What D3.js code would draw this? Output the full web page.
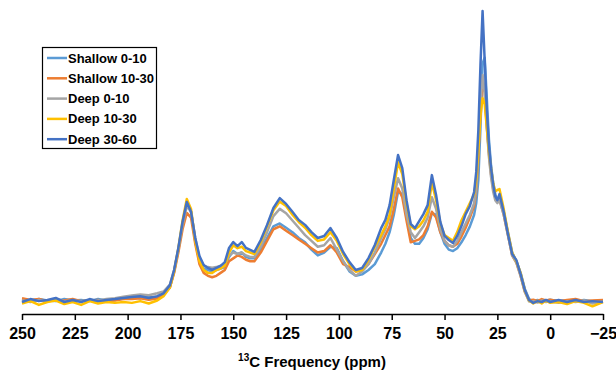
<!DOCTYPE html>
<html>
<head>
<meta charset="utf-8">
<script src="https://cdn.jsdelivr.net/npm/d3@7"></script>
<style>
  body { margin: 0; background: #fff; }
  text { font-family: "Liberation Sans", Arial, sans-serif; font-weight: bold; }
</style>
</head>
<body>
<div id="chart"></div>
<script>
// shared ppm grid
const ppm = [
  250, 246, 242, 238, 234, 230, 226, 222, 218, 214, 210, 206, 202, 198, 194, 190, 186, 183,
  180, 178, 176, 174, 172, 170, 168, 166, 164, 162, 160, 158, 156, 154, 152, 150, 148, 146, 144, 142, 140,
  137, 134, 131, 128, 125, 122, 119, 116, 113, 110, 107, 104, 101, 98, 95, 92, 89, 86, 83,
  80, 78, 76, 74, 72, 70, 68, 66, 64, 62, 60, 58, 56, 54, 52, 50, 48, 46, 44, 42, 40, 38, 36,
  35, 34, 33, 32, 31, 30, 29, 28, 27, 26, 25, 24,
  22, 20, 18, 16, 14, 12, 10, 8, 6, 4, 2, 0, -4, -8, -12, -16, -20, -25
];

const shallow0_10 = [
  0.7, 0.3, 1, 0.5, 0.3, 1, 0.5, 0.7, 0.3, 1, 0.5, 0.7, 1.2, 1.5, 1.3, 1.8, 1.5, 2.5,
  5, 10.5, 18, 27, 34, 31, 21, 14, 11.5, 11, 10.5, 11, 11.5, 12, 15.5, 17.5, 16.5, 17, 15.5, 15, 15,
  18, 22, 26, 27, 25.5, 24, 22, 20.5, 18, 16, 17, 19, 18.5, 14, 10.5, 9, 9.5, 11, 13,
  17, 20, 24, 30, 38, 37, 30, 22, 20, 20, 22, 25, 30.5, 30, 24, 20, 18, 17.5, 18.5, 20.5, 23, 26, 30,
  34, 42, 60, 82, 84, 70, 56, 47, 41, 37, 35, 35.5,
  31, 24, 17, 14, 10, 4.5, 1, 0.3, 0.7, 0.3, 0.5, 0.8, 0.3, 0.5, 0.3, 0.7, 0.3, 0.5
];
const shallow10_30 = [
  1.3, 0.7, 1, 0.3, 0.7, 0.5, 1, 0.3, 0.5, 0.7, 0.3, 0.5, 1, 1, 1.3, 0.8, 1.2, 2.5,
  5, 10, 17, 25, 30.6, 29, 20, 13, 10, 9, 8.5, 9, 10, 11, 14, 15, 16, 15.5, 14.5, 14, 14,
  17, 21, 25, 26, 24.5, 23, 21.5, 20, 18.5, 17, 17.5, 19.5, 17, 13, 12, 10.5, 11, 13, 16.5,
  20, 23, 26, 32, 39, 36, 28, 20.5, 21, 21.5, 23, 26, 31, 29, 24, 21, 19.5, 19, 20, 22.5, 25.5, 29, 33,
  38, 50, 66, 76, 72, 61, 51, 44, 39, 36, 35, 35.5,
  30, 23, 16, 13.5, 9, 3.5, 0.5, 0.8, 0.3, 1, 0.5, 0.8, 0.3, 0.7, 1, 0.3, 0.5, 0.7
];
const deep0_10 = [
  0.5, 0, 0.7, 0.3, 1, 0.3, 0.5, 0.3, 0.7, 0.5, 1, 1.3, 1.8, 2.2, 2.6, 2.3, 3, 3.6,
  6, 11, 18, 26.5, 33, 31, 22, 15, 12.5, 12, 11.8, 12, 12.5, 13, 16, 17, 16.5, 17, 16, 15.5, 15.5,
  19, 24, 29.5, 32, 30.5, 28, 25.5, 23, 21, 19, 19.5, 22, 18, 14, 11, 9, 10.5, 13, 17,
  22, 25, 29, 36, 42.5, 39, 30, 24, 22, 24, 26, 29, 36, 32, 25, 21, 19.5, 19, 21, 24, 27, 30, 34,
  39, 52, 68, 78, 72, 60, 50, 43, 38, 35, 34, 35,
  30, 23, 16, 13.5, 9, 3.5, 0.2, 0.3, -0.2, 0.5, 0, 0.3, -0.3, 0.3, 0, 0.5, -0.5, 0.2
];
const deep10_30 = [
  -0.5, 0.3, -1, 0, 0.5, -0.7, 0, -1, 0.3, -0.5, 0, -0.3, 0, -0.3, 0.3, -0.5, 0.5, 2,
  5, 10.5, 18.5, 28, 35.4, 32, 21, 14, 11, 10, 10, 11, 11.5, 12.5, 17, 19.5, 18.5, 19, 17.5, 17, 16.5,
  20.5, 26, 31.5, 34.5, 33, 30, 27.5, 25.5, 23, 21, 21.5, 24, 21, 16.5, 13, 10.5, 11, 14.5, 19,
  23, 26, 30, 39, 48, 44, 34, 26, 25, 26, 28, 31, 41, 35, 27, 23, 22, 21, 24, 28, 31, 34, 37,
  42, 52, 64, 70, 68, 60, 52, 46, 41, 38, 38.5, 38.8,
  32, 24, 17, 14, 10, 4, 0.5, -0.5, 0.3, -0.5, 0.5, -0.3, 0, -0.7, 0.3, -0.3, -1.5, 0
];
const deep30_60 = [
  0, 1, 0.3, 0.7, 1.4, 0, 0.7, 0, 1, 0.3, 0.7, 1, 1.4, 1.7, 2, 1.4, 2, 3,
  5.8, 11, 18.6, 27.5, 34.4, 31, 22, 15.8, 12.7, 11.7, 11, 11.7, 12.4, 13.7, 18.6, 20.6, 19.2, 20.6, 18.6, 17.9, 17.2,
  21.3, 26.5, 32.3, 35.7, 33.7, 31, 28.2, 26.5, 24, 22, 22.7, 25.4, 22, 17.2, 13.7, 11, 11.7, 15.1, 19.6,
  25.4, 28.2, 33.3, 42, 50.5, 46, 35, 26.8, 25.4, 27.8, 30.2, 33.3, 43.6, 36.8, 27.5, 22.7, 21.3, 20.3, 22.7, 26.1, 30.2, 33, 37.8,
  44.7, 59, 81.4, 100, 83, 66, 54, 46, 40.5, 36.4, 35, 37.1,
  31, 23.4, 16.5, 14.4, 9.6, 4.1, 0.7, -0.3, 0.3, 0, 0.7, 0, 0.7, 0, 0.7, 0, 0.3, 0
];

const seriesNames = ['Shallow 0-10', 'Shallow 10-30', 'Deep 0-10', 'Deep 10-30', 'Deep 30-60'];
const seriesValues = [shallow0_10, shallow10_30, deep0_10, deep10_30, deep30_60];
const seriesColors = ['#5B9BD5', '#ED7D31', '#A5A5A5', '#FFC000', '#4472C4'];
const xTicks = [250, 225, 200, 175, 150, 125, 100, 75, 50, 25, 0, -25];

const width = 616, height = 375;

const svg = d3.select('#chart')
  .append('svg')
  .attr('width', width)
  .attr('height', height);

const x = d3.scaleLinear().domain([250, -25]).range([22, 603]);
const y = d3.scaleLinear().domain([0, 100]).range([302, 11]);
const axisY = 314;

// *** spectra *** //
const line = d3.line()
  .x((d, i) => x(ppm[i]))
  .y(d => y(d));

svg.append('g')
  .selectAll('path')
  .data(seriesValues)
  .join('path')
  .attr('d', line)
  .attr('fill', 'none')
  .attr('stroke', (d, i) => seriesColors[i])
  .attr('stroke-width', 2.5)
  .attr('stroke-linejoin', 'round');

// *** x axis *** //
const xAxis = d3.axisBottom(x)
  .tickValues(xTicks)
  .tickSize(6)
  .tickSizeOuter(0)
  .tickPadding(8)
  .tickFormat(d3.format('d'));

const gx = svg.append('g')
  .attr('transform', `translate(0, ${axisY})`)
  .call(xAxis);
gx.select('.domain').attr('stroke', '#000').attr('stroke-width', 1.5);
gx.selectAll('.tick line').attr('stroke', '#000').attr('stroke-width', 1.5);
gx.selectAll('.tick text')
  .attr('fill', '#000')
  .style('font-family', '"Liberation Sans", Arial, sans-serif')
  .style('font-weight', 'bold')
  .style('font-size', '16px');

// axis title
const title = svg.append('text')
  .attr('x', 312)
  .attr('y', 367)
  .attr('text-anchor', 'middle')
  .attr('fill', '#000')
  .style('font-size', '15px');
title.append('tspan').attr('font-size', '10px').attr('dy', '-6').text('13');
title.append('tspan').attr('dy', '6').text('C Frequency (ppm)');

// *** legend *** //
const legend = svg.append('g');
legend.append('rect')
  .attr('x', 42.5)
  .attr('y', 47.5)
  .attr('width', 114)
  .attr('height', 101)
  .attr('fill', '#fff')
  .attr('stroke', '#000')
  .attr('stroke-width', 1.2);

const items = legend.selectAll('g.item')
  .data(seriesNames)
  .join('g')
  .attr('class', 'item')
  .attr('transform', (d, i) => `translate(0, ${58 + i * 20.3})`);

items.append('line')
  .attr('x1', 47).attr('x2', 67)
  .attr('y1', 0).attr('y2', 0)
  .attr('stroke', (d, i) => seriesColors[i])
  .attr('stroke-width', 2.5);

items.append('text')
  .attr('x', 68)
  .attr('y', 4.5)
  .attr('fill', '#000')
  .style('font-size', '13px')
  .text(d => d);
</script>
</body>
</html>
